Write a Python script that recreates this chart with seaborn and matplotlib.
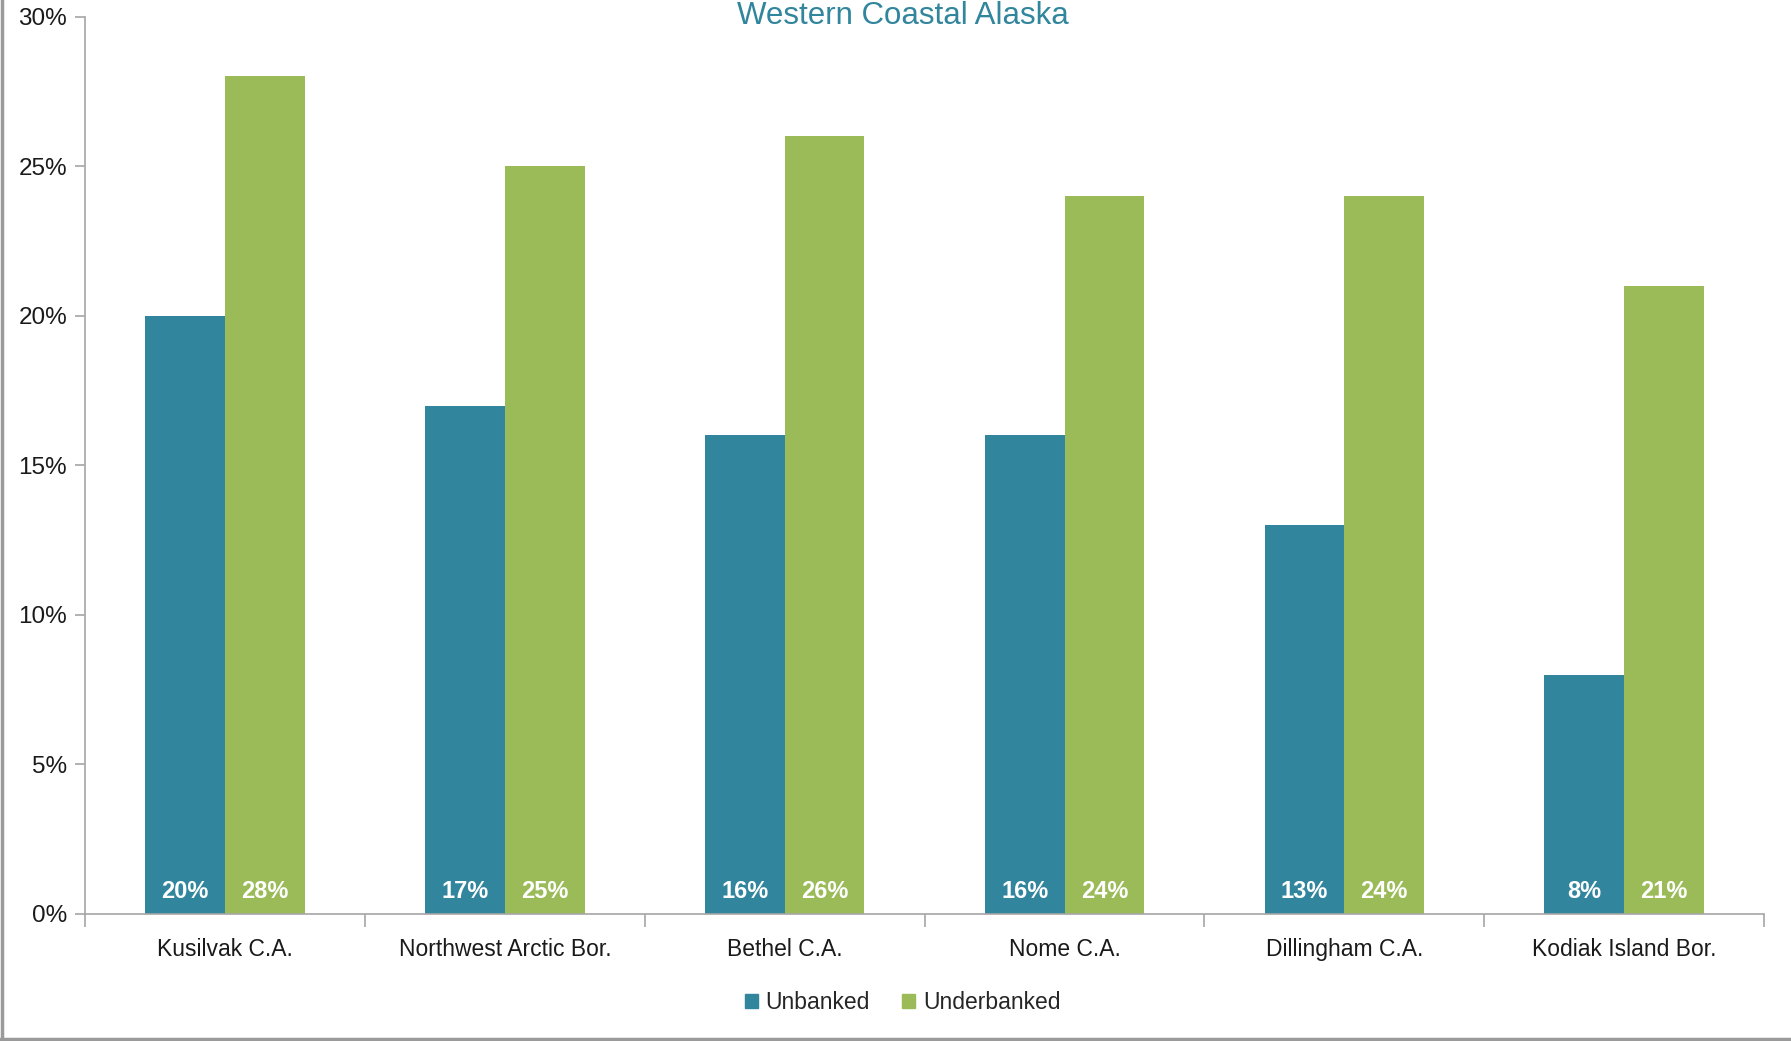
import seaborn as sns
import matplotlib.pyplot as plt
import numpy as np
import pandas as pd
from matplotlib.patches import Rectangle
from matplotlib.lines import Line2D
from matplotlib.ticker import PercentFormatter

sns.set(style="white")
plt.rcParams['font.family'] = ['Liberation Sans', 'DejaVu Sans']

areas = ["Kusilvak C.A.", "Northwest Arctic Bor.", "Bethel C.A.", "Nome C.A.",
         "Dillingham C.A.", "Kodiak Island Bor."]
unbanked = [20, 17, 16, 16, 13, 8]
underbanked = [28, 25, 26, 24, 24, 21]
series = ["Unbanked", "Underbanked"]
colores = ["#31859C", "#9BBB59"]

datos = pd.DataFrame({
    "area": areas * 2,
    "grupo": [series[0]] * len(areas) + [series[1]] * len(areas),
    "valor": [v / 100 for v in unbanked + underbanked],
})

fig = plt.figure(figsize=(17.91, 10.41), dpi=100)
ax = fig.add_axes([0.0475, 0.122, 0.9375, 0.862])

sns.barplot(data=datos, x="area", y="valor", hue="grupo", order=areas,
            hue_order=series, palette=colores, width=0.57, gap=0,
            saturation=1, linewidth=0, ax=ax, legend=False)

ax.set_ylim(0, 0.30)
ax.set_xlim(-0.5, len(areas) - 0.5)
ax.set_yticks(np.arange(0, 0.31, 0.05))
ax.yaxis.set_major_formatter(PercentFormatter(1.0, decimals=0))
ax.set_xlabel("")
ax.set_ylabel("")

# ticks on category boundaries, labels in the middle
ax.set_xticks(np.arange(len(areas)))
ax.set_xticklabels(areas)
ax.set_xticks(np.arange(-0.5, len(areas)), minor=True)
ax.tick_params(axis="x", which="major", length=0, pad=17, labelsize=16.5, labelcolor="#1a1a1a")
ax.tick_params(axis="x", which="minor", length=9, width=1.2, color="#a6a6a6", direction="out", bottom=True)
ax.tick_params(axis="y", length=7, width=1.2, color="#a6a6a6", direction="out", left=True,
               labelsize=17.5, labelcolor="#1a1a1a", pad=6)

for s in ["top", "right"]:
    ax.spines[s].set_visible(False)
for s in ["left", "bottom"]:
    ax.spines[s].set_color("#a6a6a6")
    ax.spines[s].set_linewidth(1.2)

# labels inside bars, near the base
for cont in ax.containers:
    for barra in cont:
        val = barra.get_height()
        ax.annotate(f"{val * 100:.0f}%", (barra.get_x() + barra.get_width() / 2, 0),
                    xytext=(0, 16), textcoords="offset points", ha="center", va="center",
                    color="white", fontsize=17, fontweight="bold")

fig.text(0.504, 0.977, "Western Coastal Alaska", ha="center", va="baseline",
         fontsize=22.5, color="#31859C")

handles = [Rectangle((0, 0), 1, 1, color=c) for c in colores]
fig.legend(handles, series, loc="center", bbox_to_anchor=(0.504, 0.037), ncol=2,
           frameon=False, fontsize=16.5, handlelength=0.55, handleheight=0.55,
           handletextpad=0.35, columnspacing=1.4)

# frame only on the left and bottom
fig.lines.append(Line2D([0.001, 0.001], [0, 1], transform=fig.transFigure,
                        color="#9a9a9a", linewidth=2.5))
fig.lines.append(Line2D([0, 1], [0.0015, 0.0015], transform=fig.transFigure,
                        color="#9a9a9a", linewidth=2.5))

plt.savefig("out.png", dpi=100)
